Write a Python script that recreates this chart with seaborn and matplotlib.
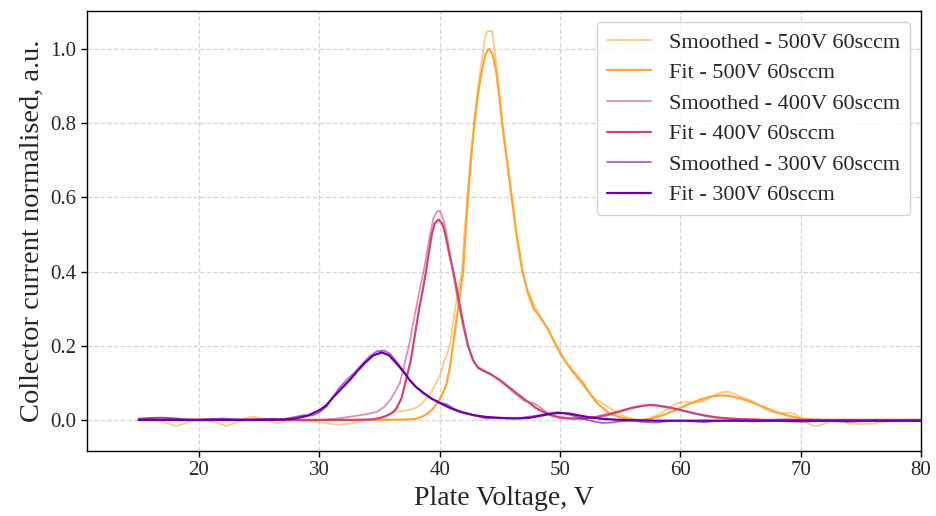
import matplotlib
matplotlib.use("Agg")
import matplotlib.pyplot as plt
import seaborn as sns
import pandas as pd

# ---- 500 V, 60 sccm ----
v500_smooth_x = [15.0, 15.5, 16.5, 17.3, 18.1, 18.8, 19.5, 20.5, 21.5, 22.3, 23.0, 23.8, 24.5, 25.3, 26.0, 26.5,
                 27.2, 28.0, 29.0, 30.0, 31.0, 31.7, 32.5, 33.2, 34.0, 34.8, 35.5, 36.0, 36.4, 37.0, 37.8, 38.4,
                 38.9, 39.4, 39.7, 40.0, 40.4, 40.85, 41.2, 41.55, 41.85, 42.05, 42.3, 42.55, 42.85, 43.2, 43.5,
                 43.8, 44.0, 44.35, 44.6, 44.9, 45.2, 45.6, 46.0, 46.4, 46.8, 47.2, 47.6, 48.0, 48.5, 49.0, 49.5,
                 50.0, 50.5, 51.0, 51.5, 52.0, 52.5, 53.0, 53.5, 54.0, 54.5, 55.0, 55.5, 56.0, 56.5, 57.0, 57.5,
                 58.0, 58.5, 59.0, 59.5, 60.0, 60.5, 61.0, 61.5, 62.0, 62.5, 63.0, 63.5, 64.0, 64.5, 65.0, 65.5,
                 66.0, 66.5, 67.0, 67.5, 68.0, 68.5, 69.0, 69.5, 70.0, 70.5, 71.0, 71.5, 72.0, 72.5, 73.0, 73.5,
                 74.0, 75.0, 76.0, 77.0, 78.0, 79.0, 80.0, 82.0, 100.0]
v500_smooth_y = [0.0, 0.003, 0.002, -0.008, -0.016, -0.01, -0.001, 0.002, -0.008, -0.016, -0.008, 0.004, 0.009,
                 0.004, -0.005, -0.009, -0.004, -0.001, -0.003, -0.006, -0.011, -0.013, -0.010, -0.006, -0.001,
                 0.003, 0.010, 0.018, 0.022, 0.024, 0.030, 0.040, 0.058, 0.080, 0.100, 0.117, 0.16, 0.20, 0.28,
                 0.35, 0.40, 0.50, 0.60, 0.70, 0.80, 0.90, 0.97, 1.035, 1.048, 1.048, 0.99, 0.90, 0.80, 0.69,
                 0.59, 0.49, 0.41, 0.36, 0.33, 0.30, 0.27, 0.245, 0.21, 0.18, 0.155, 0.13, 0.11, 0.09, 0.07,
                 0.055, 0.045, 0.035, 0.025, 0.015, 0.008, 0.003, 0.0, 0.001, 0.005, 0.012, 0.02, 0.032, 0.042,
                 0.047, 0.048, 0.046, 0.047, 0.052, 0.061, 0.070, 0.075, 0.076, 0.070, 0.063, 0.057, 0.050,
                 0.040, 0.030, 0.022, 0.018, 0.019, 0.019, 0.016, 0.005, -0.008, -0.015, -0.016, -0.010, -0.002,
                 0.0, -0.003, -0.010, -0.011, -0.010, -0.004, 0.0, 0.0, -0.001, 0.0, 0.0]
v500_fit_x = [15.0, 35.0, 37.0, 38.0, 38.5, 39.0, 39.5, 40.0, 40.3, 40.6, 40.9, 41.1, 41.4, 41.7, 41.95, 42.15,
              42.36, 42.6, 42.9, 43.2, 43.5, 43.8, 44.1, 44.4, 44.7, 45.0, 45.2, 45.6, 46.0, 46.4, 46.9, 47.3,
              47.8, 48.3, 49.0, 49.7, 50.4, 51.0, 51.9, 52.5, 53.1, 54.0, 55.0, 56.0, 56.7, 57.5, 58.5, 59.5,
              60.5, 61.5, 62.5, 63.3, 64.0, 65.0, 66.0, 67.0, 68.0, 69.0, 70.0, 71.0, 72.0, 80.0, 100.0]
v500_fit_y = [0.0, 0.0, 0.001, 0.003, 0.008, 0.017, 0.032, 0.055, 0.075, 0.10, 0.15, 0.20, 0.27, 0.34, 0.40,
              0.50, 0.60, 0.70, 0.80, 0.88, 0.94, 0.985, 1.0, 0.985, 0.94, 0.86, 0.80, 0.70, 0.60, 0.50, 0.40,
              0.345, 0.30, 0.28, 0.245, 0.20, 0.16, 0.135, 0.10, 0.07, 0.045, 0.02, 0.007, 0.001, 0.0, 0.003,
              0.012, 0.025, 0.04, 0.053, 0.063, 0.066, 0.065, 0.058, 0.047, 0.034, 0.021, 0.011, 0.004, 0.001,
              0.0, 0.0, 0.0]

# ---- 400 V, 60 sccm ----
v400_smooth_x = [15.0, 16.0, 17.0, 18.0, 19.0, 20.0, 21.0, 22.0, 23.0, 24.0, 25.0, 26.0, 27.0, 28.0, 29.0, 30.0,
                 31.0, 32.0, 33.0, 34.0, 34.8, 35.4, 35.9, 36.3, 36.7, 37.0, 37.45, 37.8, 38.1, 38.3, 38.6, 38.9,
                 39.2, 39.5, 39.8, 40.0, 40.2, 40.4, 40.7, 41.0, 41.3, 41.6, 41.9, 42.3, 42.7, 43.1, 43.6, 44.2,
                 44.8, 45.4, 46.0, 46.5, 47.0, 47.5, 48.0, 48.5, 49.0, 49.5, 50.0, 51.0, 52.0, 53.0, 54.0, 55.0,
                 56.0, 57.0, 57.5, 58.0, 59.0, 60.0, 61.0, 62.0, 63.0, 64.0, 65.0, 66.0, 67.0, 68.0, 69.0, 70.0,
                 72.0, 74.0, 76.0, 78.0, 80.0, 100.0]
v400_smooth_y = [0.0, 0.006, 0.006, 0.004, 0.002, 0.001, 0.003, 0.001, 0.0, 0.002, 0.003, 0.002, 0.0, -0.001,
                 -0.001, 0.0, 0.002, 0.006, 0.011, 0.016, 0.022, 0.035, 0.054, 0.075, 0.10, 0.14, 0.20, 0.26,
                 0.31, 0.345, 0.39, 0.44, 0.50, 0.545, 0.562, 0.563, 0.55, 0.53, 0.48, 0.42, 0.36, 0.31, 0.26,
                 0.205, 0.165, 0.145, 0.135, 0.125, 0.11, 0.095, 0.078, 0.065, 0.052, 0.048, 0.042, 0.03, 0.018,
                 0.01, 0.005, 0.003, 0.004, 0.006, 0.012, 0.022, 0.032, 0.038, 0.041, 0.040, 0.035, 0.027, 0.019,
                 0.012, 0.006, 0.004, 0.003, 0.002, 0.0, 0.001, 0.002, 0.0, -0.002, 0.0, -0.003, -0.004, -0.003,
                 0.0]
v400_fit_x = [15.0, 30.0, 33.0, 34.0, 34.5, 35.0, 35.5, 36.0, 36.4, 36.85, 37.3, 37.6, 37.8, 38.05, 38.3, 38.6,
              38.87, 39.1, 39.35, 39.6, 39.9, 40.2, 40.4, 40.6, 40.85, 41.14, 41.5, 41.9, 42.36, 42.8, 43.2, 43.6,
              44.3, 45.0, 45.7, 46.4, 47.0, 47.5, 48.0, 48.6, 49.3, 50.0, 51.0, 52.0, 53.0, 54.0, 55.0, 56.0,
              57.0, 57.5, 58.0, 59.0, 60.0, 61.0, 62.0, 63.0, 64.0, 65.0, 66.0, 67.0, 80.0, 100.0]
v400_fit_y = [0.0, 0.0, 0.0, 0.001, 0.002, 0.005, 0.01, 0.018, 0.03, 0.06, 0.12, 0.16, 0.20, 0.25, 0.30, 0.35,
              0.40, 0.45, 0.50, 0.53, 0.54, 0.53, 0.51, 0.48, 0.44, 0.40, 0.34, 0.27, 0.20, 0.16, 0.14, 0.133,
              0.122, 0.108, 0.09, 0.072, 0.057, 0.045, 0.032, 0.022, 0.012, 0.007, 0.004, 0.004, 0.008, 0.015,
              0.024, 0.033, 0.039, 0.04, 0.039, 0.034, 0.027, 0.019, 0.012, 0.007, 0.004, 0.002, 0.001, 0.0,
              0.0, 0.0]

# ---- 300 V, 60 sccm ----
v300_smooth_x = [15.0, 16.0, 17.0, 18.0, 19.0, 20.0, 21.0, 22.0, 23.0, 24.0, 25.0, 26.0, 27.0, 28.0, 28.7, 29.4,
                 30.0, 30.6, 31.1, 31.7, 32.3, 33.0, 33.6, 34.2, 34.8, 35.4, 35.9, 36.4, 37.0, 37.5, 38.0, 38.6,
                 39.3, 40.0, 40.6, 41.2, 41.8, 42.5, 43.2, 43.8, 44.5, 45.3, 46.0, 46.8, 47.5, 48.3, 49.0, 49.8,
                 50.5, 51.2, 52.0, 52.8, 53.5, 54.3, 55.0, 56.0, 57.0, 58.0, 59.0, 60.0, 61.0, 62.0, 63.0, 64.0,
                 66.0, 68.0, 70.0, 72.0, 74.0, 76.0, 78.0, 80.0, 100.0]
v300_smooth_y = [0.004, 0.005, 0.006, 0.004, 0.001, 0.0, 0.002, 0.004, 0.002, 0.0, 0.001, 0.003, 0.002, 0.008,
                 0.013, 0.012, 0.02, 0.036, 0.06, 0.088, 0.108, 0.13, 0.152, 0.172, 0.185, 0.187, 0.178, 0.158,
                 0.132, 0.108, 0.09, 0.075, 0.058, 0.047, 0.042, 0.03, 0.022, 0.016, 0.01, 0.004, 0.005, 0.006,
                 0.004, 0.006, 0.009, 0.013, 0.017, 0.021, 0.017, 0.01, 0.003, -0.004, -0.008, -0.007, -0.004,
                 -0.002, -0.006, -0.007, -0.003, -0.002, -0.004, -0.006, -0.003, -0.002, -0.004, -0.003, -0.005,
                 -0.003, -0.005, -0.003, -0.002, -0.003, -0.002]
v300_fit_x = [15.0, 20.0, 25.0, 27.0, 28.0, 29.0, 30.06, 30.6, 31.1, 31.8, 32.55, 33.2, 33.9, 34.5, 35.2, 35.8,
              36.4, 37.0, 37.5, 38.0, 38.6, 39.3, 40.0, 40.9, 41.7, 42.8, 43.9, 45.3, 46.5, 47.5, 48.5, 49.3,
              50.0, 50.8, 51.6, 52.5, 53.5, 55.0, 58.0, 65.0, 80.0, 100.0]
v300_fit_y = [0.0, 0.0, 0.0, 0.001, 0.004, 0.011, 0.027, 0.04, 0.059, 0.083, 0.108, 0.133, 0.157, 0.174, 0.182,
              0.174, 0.153, 0.13, 0.108, 0.09, 0.074, 0.058, 0.046, 0.032, 0.022, 0.013, 0.008, 0.005, 0.004,
              0.006, 0.012, 0.017, 0.019, 0.017, 0.012, 0.007, 0.003, 0.0, -0.002, -0.002, -0.002, -0.002]

series_labels = ["500V 60sccm", "400V 60sccm", "300V 60sccm"]
series_colors = ["#fca636", "#cc4778", "#6a00a8"]

curves = [
    (v500_smooth_x, v500_smooth_y, v500_fit_x, v500_fit_y),
    (v400_smooth_x, v400_smooth_y, v400_fit_x, v400_fit_y),
    (v300_smooth_x, v300_smooth_y, v300_fit_x, v300_fit_y),
]

sns.set_style("ticks")
plt.rcParams["font.family"] = ["Liberation Serif", "DejaVu Serif"]
plt.rcParams["mathtext.fontset"] = "stix"

fig = plt.figure(figsize=(9.37, 5.16), dpi=100)
ax = fig.add_axes([0.0928, 0.126, 0.8902, 0.8527])

for label, color, (sx, sy, fx, fy) in zip(series_labels, series_colors, curves):
    smooth_df = pd.DataFrame({"V": sx, "I": sy})
    fit_df = pd.DataFrame({"V": fx, "I": fy})
    sns.lineplot(data=smooth_df, x="V", y="I", ax=ax, color=color, alpha=0.6, linewidth=1.3,
                 sort=False, estimator=None, label=f"Smoothed - {label}")
    sns.lineplot(data=fit_df, x="V", y="I", ax=ax, color=color, linewidth=1.6,
                 sort=False, estimator=None, label=f"Fit - {label}")

ax.set_xlim(10.7, 80)
ax.set_ylim(-0.0836, 1.102)
ax.set_xticks([20, 30, 40, 50, 60, 70, 80])
ax.set_yticks([0.0, 0.2, 0.4, 0.6, 0.8, 1.0])
ax.set_yticklabels(["0.0", "0.2", "0.4", "0.6", "0.8", "1.0"])
ax.grid(True, linestyle="--", color="#cccccc", linewidth=0.9, alpha=0.8)
ax.tick_params(axis="both", labelsize=15, direction="out", length=4, width=1, color="black")
for spine in ax.spines.values():
    spine.set_color("black")
    spine.set_linewidth(1.0)

ax.set_xlabel("Plate Voltage, V", fontsize=20)
ax.set_ylabel("Collector current normalised, a.u.", fontsize=20.5)

ax.legend(loc="upper right", fontsize=16, frameon=True, framealpha=0.85, borderpad=0.45,
          handlelength=2.0, labelspacing=0.45, edgecolor="#cccccc")

fig.savefig("out.png", dpi=100)
